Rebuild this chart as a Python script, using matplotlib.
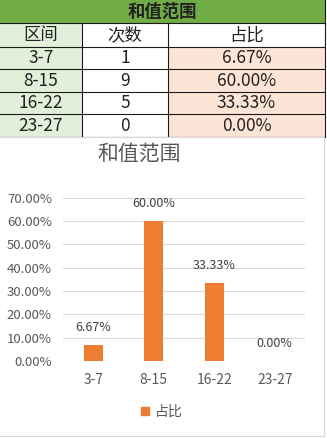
import matplotlib
matplotlib.use("Agg")
import matplotlib.pyplot as plt
from matplotlib.patches import Rectangle
from matplotlib.lines import Line2D

plt.rcParams['font.family'] = ['Noto Sans CJK SC', 'DejaVu Sans']

# Data
title = "和值范围"
headers = ["区间", "次数", "占比"]
ranges = ["3-7", "8-15", "16-22", "23-27"]
counts = [1, 9, 5, 0]
shares = [6.67, 60.00, 33.33, 0.00]   # percent
legend_label = "占比"

W, H = 327, 438
fig = plt.figure(figsize=(W / 100, H / 100), dpi=100)

# Table drawn on a pixel-coordinate canvas
tab = fig.add_axes([0, 0, 1, 1])
tab.set_xlim(0, W)
tab.set_ylim(H, 0)
tab.axis('off')

col_x = [0, 82, 168, 325]
row_y = [0, 23, 46.7, 69, 91.7, 114.3, 136.7]
green = '#70AD47'
light_green = '#E2EFDA'
peach = '#FCE4D6'
line_c = '#1a1a1a'
txt_c = '#222222'

# title row
tab.add_patch(Rectangle((0, row_y[0]), col_x[-1], row_y[1] - row_y[0],
                        facecolor=green, edgecolor='none'))
tab.text(col_x[-1] / 2, (row_y[0] + row_y[1]) / 2, title, ha='center', va='center',
         fontsize=12.5, fontweight='bold', color=txt_c)

rows = [headers] + [[r, str(c), f"{s:.2f}%"] for r, c, s in zip(ranges, counts, shares)]
for i, row in enumerate(rows):
    y0, y1 = row_y[i + 1], row_y[i + 2]
    for j, val in enumerate(row):
        x0, x1 = col_x[j], col_x[j + 1]
        if j == 0:
            fc = light_green
        elif j == 2 and i > 0:
            fc = peach
        else:
            fc = 'white'
        tab.add_patch(Rectangle((x0, y0), x1 - x0, y1 - y0, facecolor=fc, edgecolor='none'))
        tab.text((x0 + x1) / 2, (y0 + y1) / 2 + 0.5, val, ha='center', va='center',
                 fontsize=12.5, fontweight='light', color=txt_c)

# grid lines of the table
for y in row_y[1:]:
    tab.plot([0, col_x[-1]], [y, y], color=line_c, lw=0.8)
for x in col_x[1:]:
    tab.plot([x, x], [row_y[1], row_y[-1]], color=line_c, lw=0.8)
tab.plot([col_x[-1], col_x[-1]], [0, row_y[1]], color=line_c, lw=0.8)

# chart area (white box overlapping the table)
tab.add_patch(Rectangle((-2, 137), 325.5, 298.5, facecolor='white',
                        edgecolor='#D9D9D9', lw=0.8, zorder=5))

# Chart
grey = '#595959'
orange = '#ED7D31'
ax = fig.add_axes([63 / W, 1 - 361 / H, 242 / W, (361 - 197.7) / H])
ax.set_zorder(10)
ax.patch.set_alpha(0)
x = range(len(ranges))
vals = [s / 100 for s in shares]
ax.bar(x, vals, width=0.31, color=orange, zorder=3)
ax.set_xlim(-0.5, len(ranges) - 0.5)
ax.set_ylim(0, 0.7)
ax.set_yticks([i / 10 for i in range(8)])
ax.set_yticklabels([f"{i * 10:.2f}%" for i in range(8)])
ax.set_xticks(list(x))
ax.set_xticklabels(ranges)
ax.tick_params(length=0, labelsize=9.5, labelcolor=grey)
ax.tick_params(axis='x', labelsize=10)
ax.tick_params(axis='y', pad=8)
ax.tick_params(axis='x', pad=8.5)
ax.yaxis.grid(True, color='#D9D9D9', lw=0.8, zorder=0)
for sp in ax.spines.values():
    sp.set_visible(False)

for xi, v, s in zip(x, vals, shares):
    ax.annotate(f"{s:.2f}%", (xi, v), xytext=(0, 12.6), textcoords='offset points',
                ha='center', va='center', fontsize=9, color='#404040', clip_on=False)

fig.text(139 / W, 1 - 154 / H, title, ha='center', va='center', fontsize=15,
         fontweight='light', color=grey, zorder=20)

handle = Line2D([], [], marker='s', linestyle='none', markersize=6,
                markerfacecolor=orange, markeredgecolor=orange)
leg = fig.legend([handle], [legend_label], loc='center', bbox_to_anchor=(160 / W, 1 - 412 / H),
                 frameon=False, fontsize=10, handletextpad=0.2, handlelength=1)
for t in leg.get_texts():
    t.set_color(grey)
leg.set_zorder(20)

fig.savefig("out.png", dpi=100)
